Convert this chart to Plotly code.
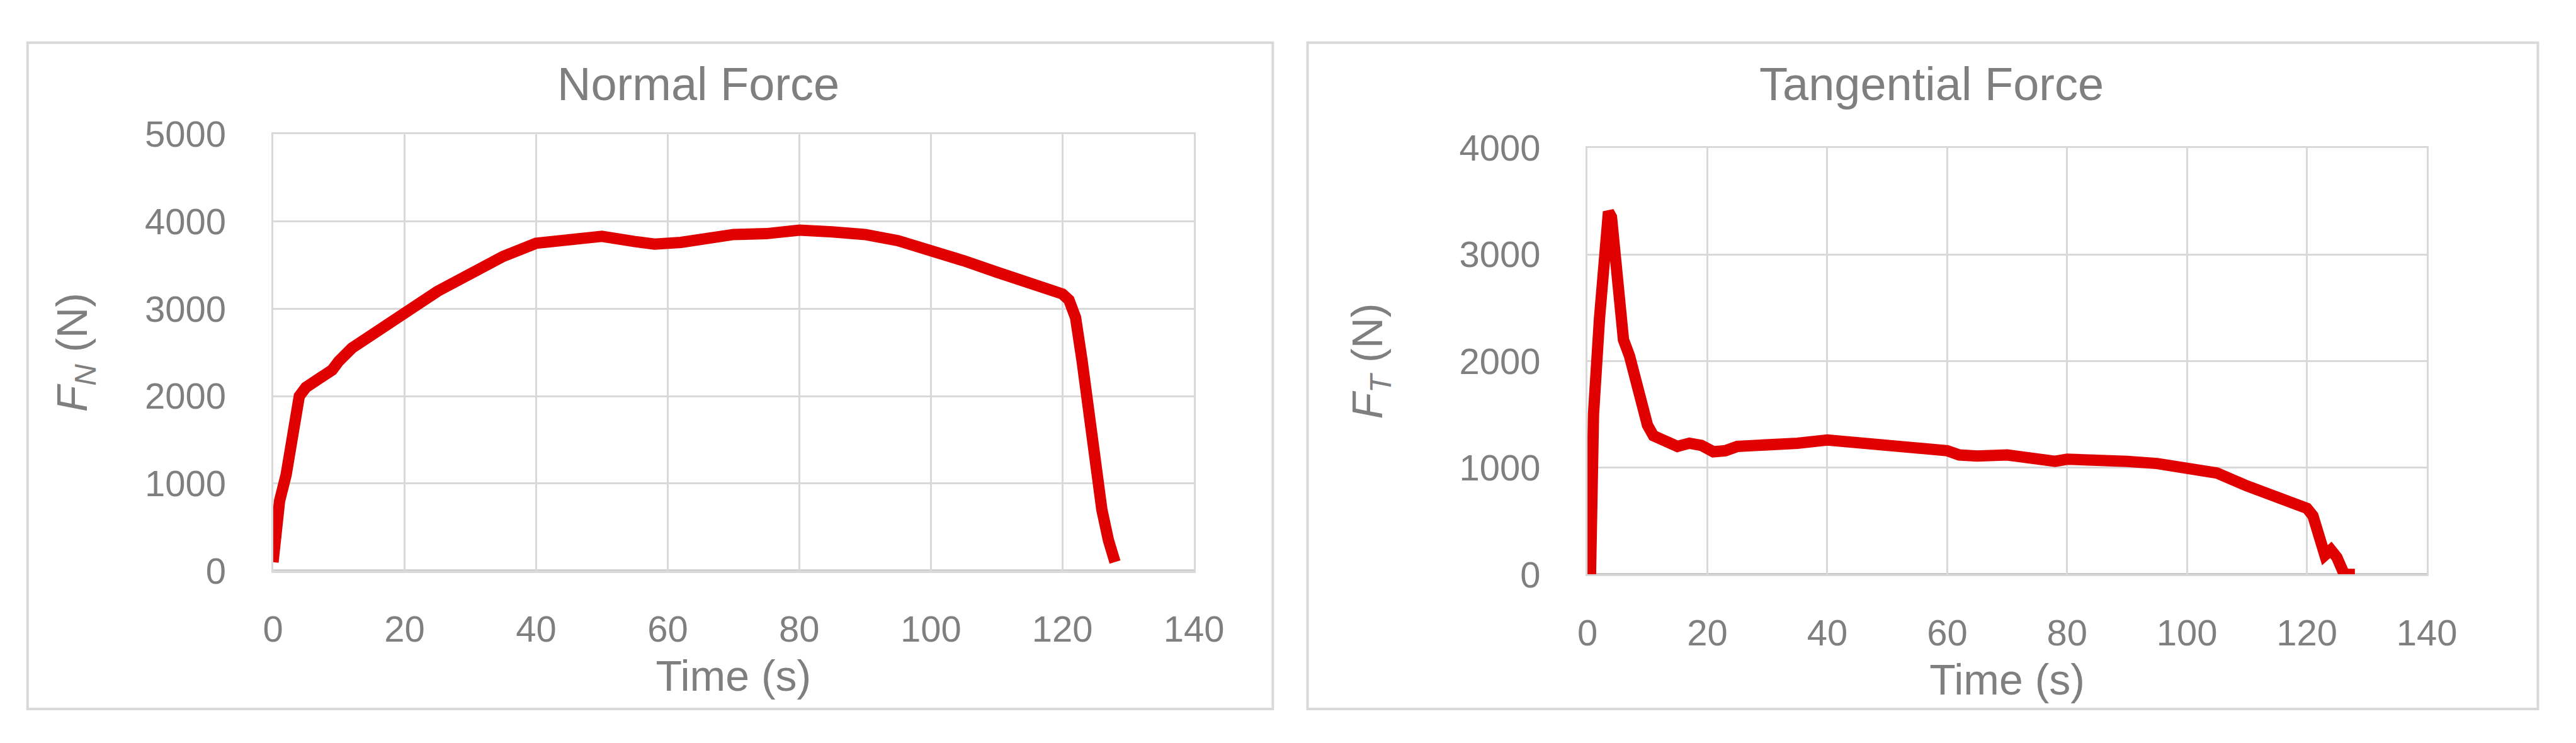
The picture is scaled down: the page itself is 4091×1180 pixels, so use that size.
import plotly.graph_objects as go

t_normal = [0,0.5,1,2,3,3.5,4,5,6,7,8,9,10,12,15,18,20,22,25,30,35,40,45,50,55,58,62,66,70,75,80,85,90,95,100,105,110,115,118,120,121,122,123,124,125,126,127,128]
f_normal = [100,500,800,1100,1500,1700,2000,2100,2150,2180,2250,2300,2400,2550,2700,2850,2950,3050,3200,3400,3600,3750,3800,3830,3770,3740,3760,3800,3850,3860,3900,3880,3850,3780,3680,3550,3420,3280,3230,3170,3100,2900,2400,1800,1200,700,350,100]
t_tang = [0.5,1,2,3,3.5,4,5,6,7,8,9,10,11,13,15,17,19,21,23,25,30,35,40,45,50,55,58,60,62,65,70,75,78,80,85,90,95,100,105,110,113,115,118,120,121,122,123,124,125,126,126.5,128]
f_tang = [0,1500,2400,3200,3400,3350,2700,2200,2050,1850,1650,1400,1300,1240,1200,1230,1210,1150,1160,1200,1210,1230,1260,1230,1210,1180,1150,1160,1120,1110,1120,1080,1060,1080,1080,1060,1040,990,950,830,760,740,660,620,550,350,180,230,160,30,0,0]
x_ticks = [0,20,40,60,80,100,120,140]

FONT = "Liberation Sans Narrow, Liberation Sans, sans-serif"
GRAY = "#7f7f7f"
RED = "#e00000"

fig = go.Figure()
fig.add_trace(go.Scatter(x=t_normal, y=f_normal, mode="lines", line=dict(color=RED, width=18), xaxis="x", yaxis="y", showlegend=False))
fig.add_trace(go.Scatter(x=t_tang, y=f_tang, mode="lines", line=dict(color=RED, width=18), xaxis="x2", yaxis="y2", showlegend=False))

ax = dict(showgrid=True, gridcolor="#d9d9d9", gridwidth=3, zeroline=False, showline=True, linecolor="#d9d9d9", linewidth=3, mirror=True,
          tickfont=dict(family=FONT, size=58, color=GRAY), ticks="", title_font=dict(family=FONT, size=68, color=GRAY))
fig.update_layout(
    width=4091, height=1180, margin=dict(l=0, r=0, t=0, b=0),
    paper_bgcolor="white", plot_bgcolor="white",
    xaxis=dict(ax, domain=[0.1017, 0.4649], range=[0, 140], tickvals=x_ticks, ticklabelstandoff=40, title=dict(text="Time (s)", standoff=20), anchor="y"),
    yaxis=dict(ax, domain=[0.2237, 0.8458], range=[0, 5000], dtick=1000, ticklabelstandoff=60, title=dict(text="<i>F</i><sub><i>N</i></sub> (N)", standoff=70), anchor="x"),
    xaxis2=dict(ax, domain=[0.6201, 0.9511], range=[0, 140], tickvals=x_ticks, ticklabelstandoff=40, title=dict(text="Time (s)", standoff=20), anchor="y2"),
    yaxis2=dict(ax, domain=[0.2186, 0.8263], range=[0, 4000], dtick=1000, ticklabelstandoff=60, title=dict(text="<i>F</i><sub><i>T</i></sub> (N)", standoff=100), anchor="x2"),
    shapes=[
        dict(type="rect", xref="paper", yref="paper", x0=0.0049, x1=0.496, y0=0.027, y1=0.976, line=dict(color="#d9d9d9", width=4)),
        dict(type="rect", xref="paper", yref="paper", x0=0.5097, x1=0.9949, y0=0.027, y1=0.976, line=dict(color="#d9d9d9", width=4)),
        dict(type="line", xref="x", yref="y", x0=0, x1=140, y0=0, y1=0, line=dict(color="#bfbfbf", width=4), layer="below"),
        dict(type="line", xref="x2", yref="y2", x0=0, x1=140, y0=0, y1=0, line=dict(color="#bfbfbf", width=4), layer="below"),
    ],
    annotations=[
        dict(text="Normal Force", xref="paper", yref="paper", x=0.2694, y=1-98/1180, xanchor="center", yanchor="middle", showarrow=False, font=dict(family=FONT, size=74, color=GRAY)),
        dict(text="Tangential Force", xref="paper", yref="paper", x=(2040+805/0.765)/4091, y=1-98/1180, xanchor="center", yanchor="middle", showarrow=False, font=dict(family=FONT, size=74, color=GRAY)),
    ],
)
fig.write_html("out.html")
